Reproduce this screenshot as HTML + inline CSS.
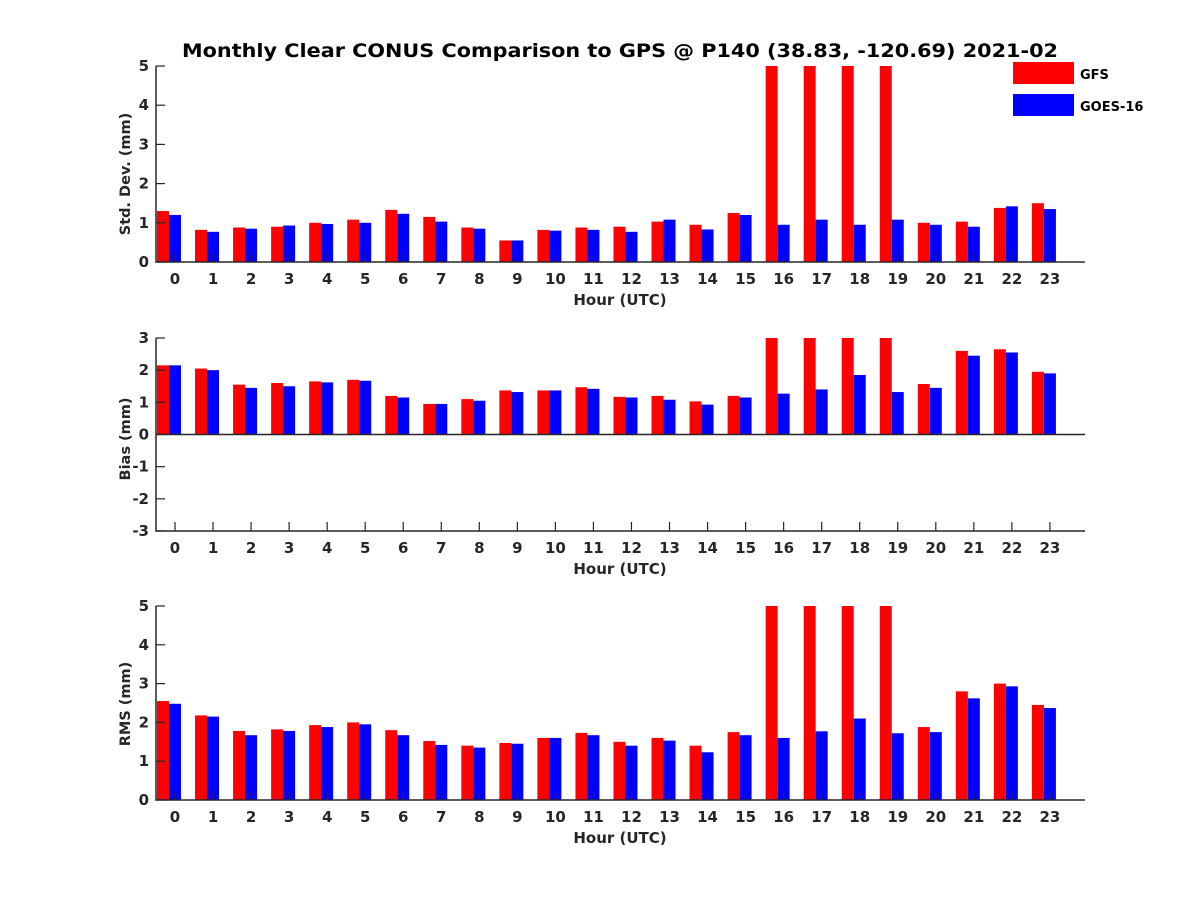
<!DOCTYPE html>
<html><head><meta charset="utf-8"><style>
body{margin:0;background:#fff}
svg text{font-family:"DejaVu Sans","Liberation Sans",sans-serif;font-weight:bold;fill:#262626}
</style></head><body>
<svg id="chart" width="1200" height="900" xmlns="http://www.w3.org/2000/svg">
<rect width="1200" height="900" fill="#fff"/>
<text x="182" y="57" font-size="19" textLength="876" lengthAdjust="spacingAndGlyphs" style="fill:#000">Monthly Clear CONUS Comparison to GPS @ P140 (38.83, -120.69) 2021-02</text>
<g id="plots"></g>
<rect x="1013" y="62" width="61" height="22" fill="#ff0000"/>
<text x="1080" y="79" font-size="13" style="fill:#000">GFS</text>
<rect x="1013" y="94" width="61" height="22" fill="#0000ff"/>
<text x="1080" y="111" font-size="13" style="fill:#000">GOES-16</text>
</svg>
<script>
const hours=[0,1,2,3,4,5,6,7,8,9,10,11,12,13,14,15,16,17,18,19,20,21,22,23];
const stdGFS=[1.3,0.82,0.88,0.9,1.0,1.08,1.33,1.15,0.88,0.55,0.82,0.88,0.9,1.03,0.95,1.25,6,6,6,6,1.0,1.03,1.38,1.5];
const stdGOES=[1.2,0.77,0.85,0.93,0.97,1.0,1.23,1.03,0.85,0.55,0.8,0.82,0.77,1.08,0.83,1.2,0.95,1.08,0.95,1.08,0.95,0.9,1.42,1.35];
const biasGFS=[2.15,2.05,1.55,1.6,1.65,1.7,1.2,0.95,1.1,1.37,1.37,1.47,1.17,1.2,1.03,1.2,4,4,4,4,1.57,2.6,2.65,1.95];
const biasGOES=[2.15,2.0,1.45,1.5,1.62,1.67,1.15,0.95,1.05,1.32,1.37,1.42,1.15,1.08,0.93,1.15,1.27,1.4,1.85,1.32,1.45,2.45,2.55,1.9];
const rmsGFS=[2.55,2.18,1.78,1.82,1.93,2.0,1.8,1.52,1.4,1.47,1.6,1.73,1.5,1.6,1.4,1.75,6,6,6,6,1.88,2.8,3.0,2.45];
const rmsGOES=[2.48,2.15,1.67,1.78,1.88,1.95,1.67,1.42,1.35,1.45,1.6,1.67,1.4,1.53,1.23,1.67,1.6,1.77,2.1,1.72,1.75,2.62,2.93,2.37];
const stdTicks=[0,1,2,3,4,5], biasTicks=[-3,-2,-1,0,1,2,3], rmsTicks=[0,1,2,3,4,5];
const NS="http://www.w3.org/2000/svg";
const g=document.getElementById('plots');
function el(t,a){const e=document.createElementNS(NS,t);for(const k in a)e.setAttribute(k,a[k]);g.appendChild(e);return e;}
const xs=h=>175+h*38.04;
const L=156,R=1085;
function panel(id,top,bot,ymin,ymax,ticks,label,red,blue,ty){
  const ys=v=>bot-(v-ymin)/(ymax-ymin)*(bot-top);
  const clip=v=>Math.max(ymin,Math.min(ymax,v));
  hours.forEach((h,i)=>{
    const y0=ys(clip(0));
    let r=el('rect',{x:xs(h)-18,y:Math.min(ys(clip(red[i])),y0),width:12,height:Math.abs(y0-ys(clip(red[i]))),fill:'#ff0000'});
    
    
    let b=el('rect',{x:xs(h)-6,y:Math.min(ys(clip(blue[i])),y0),width:12,height:Math.abs(y0-ys(clip(blue[i]))),fill:'#0000ff'});
    
    
  });
  if(ymin<0){let z=el('line',{x1:L,x2:R,y1:ys(0),y2:ys(0),stroke:'#262626','stroke-width':1.5});
    }
  let ax=el('path',{d:`M${L},${top} L${L},${bot} L${R},${bot}`,stroke:'#262626','stroke-width':1.5,fill:'none'});
  
  ticks.forEach(t=>{
    el('line',{x1:L,x2:L+9,y1:ys(t),y2:ys(t),stroke:'#262626','stroke-width':1.2});
    let tx=el('text',{x:L-7,y:ys(t)+5,'font-size':15,'text-anchor':'end'});tx.textContent=t;
    
  });
  hours.forEach(h=>{
    el('line',{x1:xs(h),x2:xs(h),y1:bot,y2:bot-9,stroke:'#262626','stroke-width':1.2});
    let tx=el('text',{x:xs(h),y:bot+22,'font-size':15,'text-anchor':'middle'});tx.textContent=h;
    
  });
  let xl=el('text',{x:620,y:bot+43,'font-size':15,'text-anchor':'middle'});xl.textContent='Hour (UTC)';
  
  const cy=ty;
  let yl=el('text',{x:130,y:cy,'font-size':14.5,'text-anchor':'middle',transform:`rotate(-90 130 ${cy})`});yl.textContent=label;
  
}
panel('std',66,262,0,5,stdTicks,'Std. Dev. (mm)',stdGFS,stdGOES,174);
panel('bias',338,531,-3,3,biasTicks,'Bias (mm)',biasGFS,biasGOES,439);
panel('rms',606,800,0,5,rmsTicks,'RMS (mm)',rmsGFS,rmsGOES,704);
</script>
</body></html>
